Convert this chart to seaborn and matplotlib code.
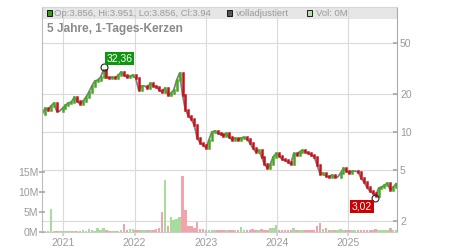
import numpy as np
import pandas as pd
import matplotlib
matplotlib.use("Agg")
import matplotlib.pyplot as plt
import matplotlib.ticker as mticker
from matplotlib.patches import Rectangle
import seaborn as sns

# ---------------- data ----------------
start_date = "2020-09-14"
step_days = 15
close = [13.8, 15.4, 14.9, 16.0, 16.9, 14.6, 14.6, 15.4, 16.3, 16.9,
         17.2, 18.8, 17.5, 16.6, 17.5, 18.8, 20.6, 23.0, 25.1, 25.6,
         27.0, 30.7, 27.0, 26.5, 27.0, 26.5, 28.0, 29.6, 28.0, 27.0,
         27.5, 28.0, 26.5, 21.4, 23.0, 23.0, 22.2, 24.3, 23.0, 22.6,
         21.4, 20.6, 22.2, 19.5, 20.2, 21.4, 25.6, 29.1, 19.5, 14.9,
         13.4, 12.6, 11.3, 9.0, 8.2, 7.9, 7.5, 8.65, 10.0, 10.2,
         9.8, 9.6, 9.3, 9.8, 9.1, 8.65, 9.0, 8.65, 9.0, 9.1,
         8.8, 8.2, 7.5, 7.0, 7.2, 6.4, 5.6, 5.2, 5.6, 6.4,
         6.8, 6.5, 6.1, 6.0, 5.8, 5.6, 6.8, 6.6, 7.0, 7.2,
         7.0, 6.8, 6.6, 6.4, 5.5, 4.68, 4.76, 4.51, 4.43, 4.59,
         4.43, 4.43, 4.76, 5.2, 4.93, 4.76, 4.93, 4.93, 4.85, 4.35,
         4.05, 3.69, 3.44, 3.32, 3.14, 3.63, 3.69, 3.83, 3.97, 3.50,
         3.69, 3.94]
volume_m = [0.3, 0.3, 0.3, 5.7, 0.3, 0.3, 0.3, 0.3, 0.3, 0.3,
            0.3, 0.3, 0.3, 0.3, 0.4, 0.3, 0.7, 0.4, 0.3, 0.9,
            0.4, 0.9, 0.4, 0.3, 0.3, 0.3, 0.3, 0.4, 2.1, 0.4,
            0.7, 0.8, 0.4, 0.6, 0.5, 0.5, 0.6, 0.5, 0.5, 0.8,
            1.0, 5.0, 13.0, 1.5, 3.7, 3.0, 3.2, 3.7, 14.0, 5.5,
            1.5, 1.4, 1.0, 2.6, 0.8, 0.7, 0.6, 0.5, 0.6, 0.5,
            0.5, 0.6, 0.5, 0.5, 0.6, 0.5, 0.6, 0.5, 1.2, 0.6,
            0.5, 0.6, 0.8, 0.6, 0.5, 0.7, 0.6, 0.6, 1.0, 1.0,
            1.8, 0.6, 0.5, 0.6, 0.5, 0.6, 1.0, 0.6, 0.5, 0.6,
            0.5, 0.6, 0.5, 0.6, 1.5, 2.3, 0.8, 1.0, 0.6, 0.5,
            0.6, 0.5, 0.8, 0.6, 0.5, 0.6, 0.5, 0.6, 0.5, 0.6,
            0.5, 0.6, 0.5, 0.6, 0.7, 0.5, 0.6, 0.5, 0.6, 1.1,
            0.6, 0.5]
peak_date, peak_value, peak_label = "2021-07-28", 32.36, "32,36"
low_date, low_value, low_label = "2025-05-18", 3.02, "3,02"
last_open, last_high, last_low, last_close = 3.856, 3.951, 3.856, 3.94
title = "5 Jahre, 1-Tages-Kerzen"
legend_adj = "volladjustiert"
legend_vol = "Vol: 0M"
year_ticks = ["2021", "2022", "2023", "2024", "2025"]
price_ticks = [2, 5, 10, 20, 50]
vol_ticks = [0, 5, 10, 15]
x_range = ("2020-09-12", "2025-09-09")
price_range = (1.64, 95.9)
vol_range = (0, 56.25)

# ---------------- styling ----------------
sns.set_theme(style="white")
plt.rcParams["font.family"] = ["Liberation Sans", "DejaVu Sans"]

GREEN = "#44a821"
RED = "#c8101a"
VGREEN = "#a6dc9c"
VRED = "#f2a3ac"
GRID = "#dadada"
TXT = "#9a9a9a"

dates = pd.date_range(start_date, periods=len(close), freq=f"{step_days}D")
close_a = np.array(close)
open_a = np.concatenate([[close_a[0]], close_a[:-1]])
up = close_a >= open_a
lo = np.minimum(open_a, close_a)
hi = np.maximum(open_a, close_a)

fig = plt.figure(figsize=(4.5, 2.5), dpi=100)
ax = fig.add_axes([41.7 / 450, 18 / 250, 355.6 / 450, 225 / 250])
ax2 = ax.twinx()

ax.set_yscale("log")
ax.set_xlim(pd.Timestamp(x_range[0]), pd.Timestamp(x_range[1]))
ax.set_ylim(*price_range)
ax2.set_ylim(*vol_range)

# grid
ax.set_axisbelow(True)
ax.grid(True, which="major", color=GRID, lw=0.8)
ax.set_facecolor("white")

# header band
ax.add_patch(Rectangle((0, 0.9467), 1, 0.0533, transform=ax.transAxes,
                       facecolor="#e6e6e6", edgecolor="none", zorder=0.3))

# adjusted line (grey) + candles
sns.lineplot(x=dates, y=close_a, ax=ax, color="#808080", lw=1.3, zorder=2)
lc1 = ax.vlines(dates[up], lo[up], hi[up], color=GREEN, lw=1.8, zorder=3)
lc2 = ax.vlines(dates[~up], lo[~up], hi[~up], color=RED, lw=1.8, zorder=3)
lc1.set_capstyle("projecting")
lc2.set_capstyle("projecting")

# volume bars
vol_colors = [VGREEN if u else VRED for u in up]
ax2.bar(dates, volume_m, width=13, color=vol_colors, linewidth=0, zorder=2)

# high / low markers
for d, v, lab, col, off in [(peak_date, peak_value, peak_label, "#0f960f", (16, 9)),
                            (low_date, low_value, low_label, "#cc0000", (-13, -8))]:
    ax.plot([pd.Timestamp(d)], [v], "o", mfc="none", mec="#222222", ms=5, mew=0.8, zorder=5)
    ax.annotate(lab, (pd.Timestamp(d), v), xytext=off, textcoords="offset pixels",
                ha="center", va="center", color="white", fontsize=7.5, zorder=6,
                bbox=dict(boxstyle="square,pad=0.15", fc=col, ec="none"))

# axes ticks
ax.yaxis.tick_right()
ax.yaxis.set_major_locator(mticker.FixedLocator(price_ticks))
ax.yaxis.set_major_formatter(mticker.FixedFormatter([str(t) for t in price_ticks]))
ax.yaxis.set_minor_locator(mticker.NullLocator())
ax.tick_params(axis="y", which="major", direction="in", length=3, pad=2,
               color="#aaaaaa", labelcolor=TXT, labelsize=7.5, right=True, left=False)
ax.set_xticks([pd.Timestamp(f"{y}-01-01") for y in year_ticks])
ax.set_xticklabels(year_ticks)
ax.tick_params(axis="x", direction="out", length=3, pad=1.5, color="#d0d0d0",
               labelcolor=TXT, labelsize=7.5, bottom=True)

ax2.yaxis.tick_left()
ax2.set_yticks(vol_ticks)
ax2.set_yticklabels([f"{t}M" for t in vol_ticks])
ax2.tick_params(axis="y", direction="inout", length=4, pad=0.5, color="#aaaaaa",
                labelcolor=TXT, labelsize=7.5, left=True, right=False)
ax.set_xlabel("")
ax.set_ylabel("")
ax2.set_ylabel("")

for name, sp in ax.spines.items():
    sp.set_visible(True)
    sp.set_linewidth(0.8)
ax.spines["left"].set_color("#bbbbbb")
ax.spines["right"].set_color("#aaaaaa")
ax.spines["top"].set_color("#d6d6d6")
ax.spines["bottom"].set_color("#cccccc")
for sp in ax2.spines.values():
    sp.set_visible(False)

# legend in header band
def px_x(px):
    return (px - 41.7) / 355.6

def px_y(py):
    return (232 - py) / 225

for (lx, fc) in [(47.0, "#3a9a20"), (226.7, "#555555"), (307.0, "#b0e0a8")]:
    ax.add_patch(Rectangle((px_x(lx), px_y(15.5)), 5 / 355.6, 5 / 225, transform=ax.transAxes,
                           facecolor=fc, edgecolor="black", lw=0.6, zorder=6))
ax.text(px_x(53.5), px_y(13.2),
        f"Op:{last_open}, Hi:{last_high}, Lo:{last_low}, Cl:{last_close}",
        transform=ax.transAxes, ha="left", va="center", fontsize=6.8, color=TXT, zorder=6)
ax.text(px_x(235.5), px_y(13.2), legend_adj, transform=ax.transAxes, ha="left",
        va="center", fontsize=6.8, color=TXT, zorder=6)
ax.text(px_x(316.5), px_y(13.2), legend_vol, transform=ax.transAxes, ha="left",
        va="center", fontsize=6.8, color=TXT, zorder=6)

ax.text(px_x(47), px_y(29), title, transform=ax.transAxes, ha="left", va="center",
        fontsize=8.6, fontweight="bold", color="#8a8a8a", zorder=6)

fig.savefig("out.png", dpi=100)
